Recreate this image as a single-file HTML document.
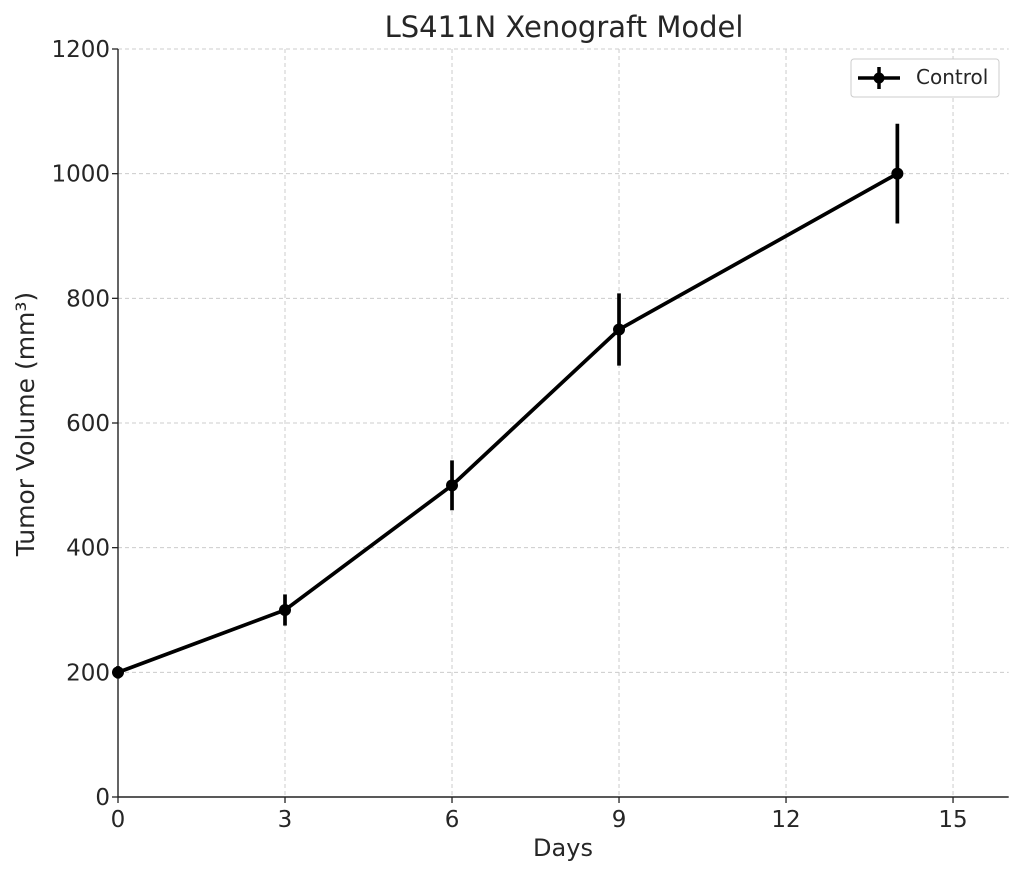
<!DOCTYPE html>
<html><head><meta charset="utf-8"><style>
body{margin:0;background:#fff;font-family:"Liberation Sans","DejaVu Sans",sans-serif;}
svg text{font-family:"DejaVu Sans","Liberation Sans",sans-serif;fill:#262626;}
</style></head><body>
<svg id="chart" width="1024" height="876" xmlns="http://www.w3.org/2000/svg">
<text x="564" y="37" font-size="29" text-anchor="middle">LS411N Xenograft Model</text>
<g id="grid"></g>
<g id="axes"></g>
<g id="series"></g>
<text x="563" y="856" font-size="24" text-anchor="middle">Days</text>
<text transform="translate(34,424) rotate(-90)" font-size="25" text-anchor="middle">Tumor Volume (mm³)</text>
<g>
<rect x="851" y="59" width="148" height="38" rx="3" fill="#fff" stroke="#ccc"/>
<line x1="858" y1="78" x2="900" y2="78" stroke="#000" stroke-width="3.5"/>
<line x1="879" y1="67" x2="879" y2="89" stroke="#000" stroke-width="3.5"/>
<circle cx="879" cy="78" r="5.5" fill="#000"/>
<text x="916" y="84" font-size="20">Control</text>
</g>
</svg>
<script>
const days=[0,3,6,9,14];
const volumes=[200,300,500,750,1000];
const errors=[10,25,40,58,80];
const xTicks=[0,3,6,9,12,15];
const yTicks=[0,200,400,600,800,1000,1200];
const X0=118,X1=1008.7,Y0=797,Y1=49;
const xs=v=>X0+(v/16)*(X1-X0);
const ys=v=>Y0-(v/1200)*(Y0-Y1);
const NS="http://www.w3.org/2000/svg";
function mk(p,t,a){const e=document.createElementNS(NS,t);for(const k in a)e.setAttribute(k,a[k]);p.appendChild(e);return e;}
const grid=document.getElementById('grid'),axes=document.getElementById('axes'),ser=document.getElementById('series');
xTicks.forEach(t=>{const x=xs(t);
 if(t>0){const g=mk(grid,'line',{x1:x,x2:x,y1:Y1,y2:Y0,stroke:'#ccc','stroke-dasharray':'4,3'});
 
 }
 mk(axes,'line',{x1:x,x2:x,y1:Y0,y2:Y0+6,stroke:'#222','stroke-width':1.3});
 const l=mk(axes,'text',{x:x,y:Y0+30,'font-size':23,'text-anchor':'middle'});l.textContent=t;
 
 
});
yTicks.forEach(t=>{const y=ys(t);
 if(t>0){const g=mk(grid,'line',{x1:X0,x2:X1,y1:y,y2:y,stroke:'#ccc','stroke-dasharray':'4,3'});
 
 }
 mk(axes,'line',{x1:X0-6,x2:X0,y1:y,y2:y,stroke:'#222','stroke-width':1.3});
 const l=mk(axes,'text',{x:X0-8,y:y+8,'font-size':23,'text-anchor':'end'});l.textContent=t;
 
 
});
mk(axes,'line',{x1:X0,x2:X0,y1:Y1,y2:Y0,stroke:'#222','stroke-width':1.4});
mk(axes,'line',{x1:X0,x2:X1,y1:Y0,y2:Y0,stroke:'#222','stroke-width':1.4});
const pl=mk(ser,'polyline',{points:days.map((d,i)=>xs(d)+','+ys(volumes[i])).join(' '),fill:'none',stroke:'#000','stroke-width':3.7});


days.forEach((d,i)=>{
 const e=mk(ser,'line',{x1:xs(d),x2:xs(d),y1:ys(volumes[i]-errors[i]),y2:ys(volumes[i]+errors[i]),stroke:'#000','stroke-width':3.7});
 
 
 const c=mk(ser,'circle',{cx:xs(d),cy:ys(volumes[i]),r:6,fill:'#000'});
 
 
});
</script>
</body></html>
